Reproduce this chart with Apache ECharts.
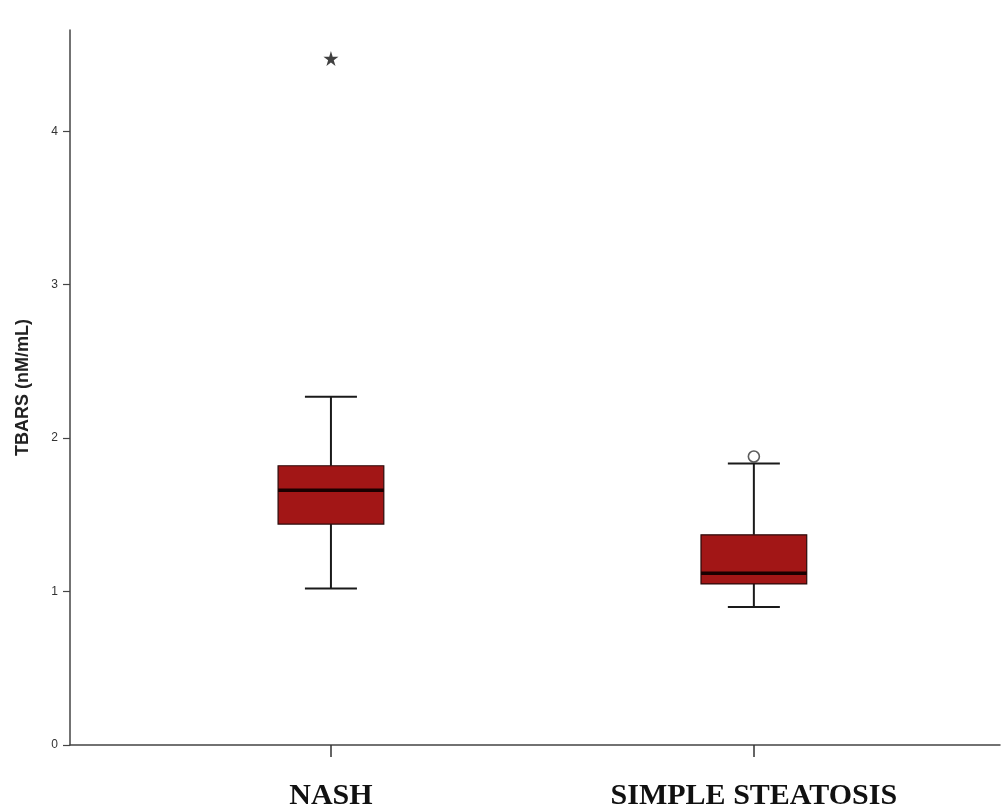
<!DOCTYPE html>
<html>
<head>
<meta charset="utf-8">
<script src="https://cdn.jsdelivr.net/npm/echarts@6/dist/echarts.min.js"></script>
<style>html,body{margin:0;padding:0;background:#fff;}#c{width:1001px;height:809px;}</style>
</head>
<body>
<div id="c"></div>
<script>
const categories = ['NASH', 'SIMPLE STEATOSIS'];
const whiskerLow = [1.02, 0.90];
const q1 = [1.44, 1.05];
const median = [1.66, 1.12];
const q3 = [1.82, 1.37];
const whiskerHigh = [2.27, 1.835];
const extremeOutliers = [[0, 4.475]];
const outliers = [[1, 1.88]];
const yTicks = [0, 1, 2, 3, 4];

const boxData = categories.map((c, i) => [i, whiskerLow[i], q1[i], median[i], q3[i], whiskerHigh[i]]);

const chart = echarts.init(document.getElementById('c'), null, {renderer: 'canvas'});
chart.setOption({
  backgroundColor: '#fff',
  animation: false,
  grid: {left: 70, right: 1, top: 30, bottom: 64, containLabel: false, outerBoundsMode: 'none'},
  xAxis: {
    type: 'value', min: -0.617, max: 1.582,
    splitLine: {show: false},
    axisLine: {onZero: false, lineStyle: {color: '#444', width: 1.5}},
    axisTick: {show: true, customValues: [0, 1], length: 12, lineStyle: {color: '#333', width: 1.5}},
    axisLabel: {
      customValues: [0, 1], margin: 36,
      formatter: v => categories[Math.round(v)] || '',
      fontFamily: '"Liberation Serif", "Times New Roman", serif', fontWeight: 'bold', fontSize: 30, color: '#111'
    }
  },
  yAxis: {
    type: 'value', min: 0, max: 4.66,
    name: 'TBARS (nM/mL)', nameLocation: 'middle', nameGap: 38, nameRotate: 90,
    nameTextStyle: {fontFamily: '"Liberation Sans", Arial, sans-serif', fontWeight: 'bold', fontSize: 18, color: '#222'},
    splitLine: {show: false},
    axisLine: {show: true, onZero: false, lineStyle: {color: '#444', width: 1.5}},
    axisTick: {show: true, customValues: yTicks, length: 7, lineStyle: {color: '#444', width: 1.2}},
    axisLabel: {customValues: yTicks, margin: 12, fontFamily: '"Liberation Sans", Arial, sans-serif', fontSize: 12, color: '#333'}
  },
  series: [
    {
      type: 'custom',
      data: boxData,
      encode: {x: 0, y: [1, 2, 3, 4, 5]},
      renderItem: function (params, api) {
        const idx = api.value(0);
        const pLo = api.coord([idx, api.value(1)]);
        const pQ1 = api.coord([idx, api.value(2)]);
        const pMed = api.coord([idx, api.value(3)]);
        const pQ3 = api.coord([idx, api.value(4)]);
        const pHi = api.coord([idx, api.value(5)]);
        const bw = api.size([0.25, 0])[0];
        const cw = api.size([0.123, 0])[0];
        const cx = pMed[0];
        const lineStyle = {stroke: '#1a1a1a', lineWidth: 2};
        return {
          type: 'group',
          children: [
            {type: 'line', shape: {x1: cx, y1: pHi[1], x2: cx, y2: pQ3[1]}, style: lineStyle},
            {type: 'line', shape: {x1: cx, y1: pQ1[1], x2: cx, y2: pLo[1]}, style: lineStyle},
            {type: 'line', shape: {x1: cx - cw / 2, y1: pHi[1], x2: cx + cw / 2, y2: pHi[1]}, style: lineStyle},
            {type: 'line', shape: {x1: cx - cw / 2, y1: pLo[1], x2: cx + cw / 2, y2: pLo[1]}, style: lineStyle},
            {type: 'rect', shape: {x: cx - bw / 2, y: pQ3[1], width: bw, height: pQ1[1] - pQ3[1]},
              style: {fill: '#a21616', stroke: '#2a0a0a', lineWidth: 1.2}},
            {type: 'line', shape: {x1: cx - bw / 2, y1: pMed[1], x2: cx + bw / 2, y2: pMed[1]},
              style: {stroke: '#1a0000', lineWidth: 3.5}}
          ]
        };
      },
      z: 2
    },
    {
      type: 'scatter',
      data: extremeOutliers,
      symbol: 'path://M50,0 L61,35 L98,35 L68,57 L79,91 L50,70 L21,91 L32,57 L2,35 L39,35 Z',
      symbolSize: 15,
      itemStyle: {color: '#111'},
      z: 3
    },
    {
      type: 'scatter',
      data: outliers,
      symbol: 'circle',
      symbolSize: 11,
      itemStyle: {color: '#fff', borderColor: '#333', borderWidth: 1.6},
      z: 3
    }
  ]
});
</script>
</body>
</html>
